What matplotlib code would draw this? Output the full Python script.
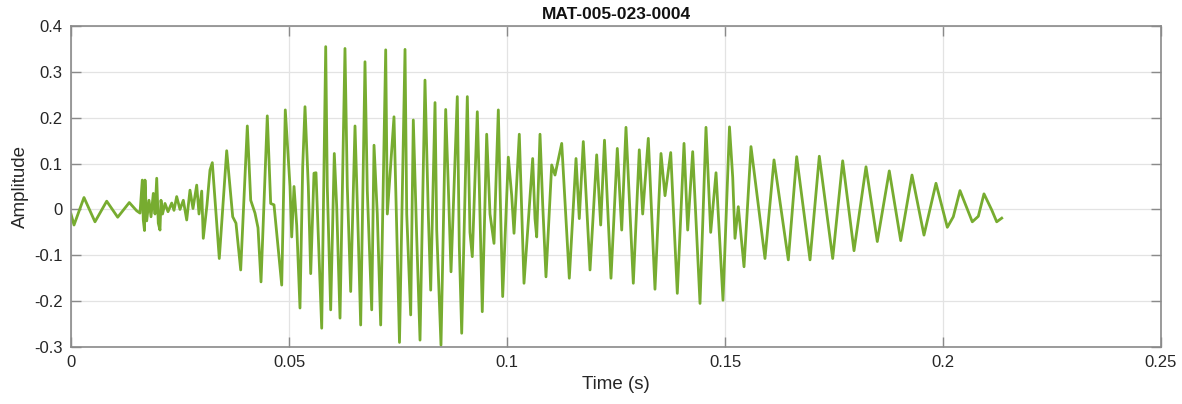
import matplotlib
matplotlib.use('Agg')
import matplotlib.pyplot as plt
from matplotlib.ticker import FuncFormatter
import numpy as np

plt.rcParams['font.family'] = ['Liberation Sans', 'DejaVu Sans']

# waveform: time (ms) and amplitude of peaks / troughs
t_ms = [0.00, 0.69, 2.98, 5.50, 8.19, 10.71, 13.37, 15.07, 15.83,
        16.35, 16.58, 16.86, 16.97, 17.36, 17.89, 18.35, 18.88, 19.27, 19.66,
        20.02, 20.41, 20.64, 20.99, 21.56, 22.25, 23.10, 23.62, 24.24, 25.00,
        25.76, 26.54, 27.29, 27.98, 28.83, 29.36, 29.98, 30.34, 31.19, 31.88,
        32.41, 34.01, 35.71, 37.09, 37.84, 38.92, 40.44, 41.22, 42.20, 42.89,
        43.58, 45.02, 45.80, 46.56, 48.33, 49.15, 50.23, 50.62, 51.15, 51.77,
        52.52, 53.14, 53.67, 54.43, 54.98, 55.73, 56.19, 57.50, 58.42, 58.78,
        59.56, 60.39, 60.94, 61.70, 62.84, 63.37, 64.15, 65.14, 65.89, 66.44,
        67.43, 67.96, 68.97, 69.50, 70.25, 71.03, 72.18, 72.55, 74.08, 75.34,
        76.61, 77.00, 77.91, 78.51, 79.29, 80.05, 81.19, 81.95, 82.50, 83.49,
        83.88, 84.86, 85.94, 86.54, 87.16, 88.60, 89.06, 89.61, 90.90, 91.51,
        92.04, 93.19, 93.65, 94.33, 95.34, 96.10, 97.02, 98.01, 98.39, 99.01,
        100.30, 101.08, 101.61, 102.82, 103.90, 105.89, 106.42, 106.81, 107.57,
        108.19, 108.94, 110.25, 111.01, 112.55, 114.29, 115.83, 116.58, 117.50,
        119.04, 120.57, 121.49, 122.36, 123.85, 125.30, 126.31, 127.29, 128.97,
        130.34, 131.12, 132.41, 133.94, 135.32, 136.24, 137.55, 139.06, 140.60,
        141.44, 142.59, 144.27, 145.64, 146.72, 147.94, 149.54, 151.03, 151.77,
        152.29, 153.05, 154.36, 155.96, 159.17, 161.24, 164.52, 166.44, 169.50,
        171.63, 174.70, 176.99, 179.59, 182.34, 184.93, 187.68, 190.30, 192.89,
        195.64, 198.39, 200.99, 202.36, 203.90, 206.72, 208.10, 209.40, 211.17,
        212.32, 213.47]

amp = [-0.010, -0.034, 0.026, -0.027, 0.018, -0.017, 0.015, -0.003, -0.008,
       0.064, -0.023, -0.046, 0.064, -0.025, 0.020, -0.016, 0.035, -0.010, 0.068,
       -0.030, -0.045, 0.020, -0.010, 0.013, -0.005, 0.014, -0.002, 0.028, 0.000,
       0.020, -0.023, 0.042, 0.002, 0.053, -0.010, 0.040, -0.063, 0.010, 0.086,
       0.102, -0.107, 0.128, -0.016, -0.030, -0.132, 0.182, 0.020, -0.008, -0.040,
       -0.158, 0.204, 0.013, 0.010, -0.165, 0.217, 0.050, -0.060, 0.050, -0.035,
       -0.215, 0.093, 0.224, 0.050, -0.140, 0.079, 0.080, -0.259, 0.355, 0.050,
       -0.219, 0.122, 0.006, -0.237, 0.351, 0.050, -0.179, 0.182, -0.060, -0.252,
       0.322, 0.040, -0.219, 0.140, -0.010, -0.252, 0.348, -0.010, 0.202, -0.290,
       0.349, -0.010, -0.230, 0.195, -0.060, -0.285, 0.282, -0.010, -0.176, 0.233,
       -0.045, -0.296, 0.218, 0.050, -0.136, 0.246, -0.080, -0.270, 0.246, -0.050,
       -0.103, 0.213, 0.050, -0.223, 0.164, -0.010, -0.074, 0.217, 0.050, -0.190,
       0.114, 0.030, -0.052, 0.164, -0.161, 0.111, -0.020, -0.060, 0.164,
       0.010, -0.147, 0.097, 0.075, 0.144, -0.150, 0.111, -0.020, 0.148,
       -0.132, 0.119, -0.034, 0.151, -0.150, 0.133, -0.045, 0.179, -0.161,
       0.130, -0.010, 0.155, -0.174, 0.122, 0.030, 0.124, -0.183, 0.144,
       -0.045, 0.126, -0.205, 0.179, -0.050, 0.080, -0.198, 0.180, 0.070,
       -0.063, 0.006, -0.125, 0.137, -0.107, 0.108, -0.110, 0.115, -0.110,
       0.116, -0.107, 0.106, -0.090, 0.093, -0.070, 0.084, -0.068, 0.075,
       -0.056, 0.057, -0.039, -0.016, 0.041, -0.027, -0.015, 0.034, -0.001,
       -0.027, -0.019]

x_ticks = [0, 0.05, 0.1, 0.15, 0.2, 0.25]
y_ticks = [-0.3, -0.2, -0.1, 0, 0.1, 0.2, 0.3, 0.4]

fig = plt.figure(figsize=(11.82, 4.04), dpi=100)
ax = fig.add_axes([71 / 1182, 57 / 404, 1090 / 1182, 321 / 404])

t = np.array(t_ms) / 1000.0
ax.plot(t, amp, color='#77AC30', linewidth=2.0, solid_joinstyle='round')

ax.set_xlim(0, 0.25)
ax.set_ylim(-0.3, 0.4)
ax.set_xticks(x_ticks)
ax.set_yticks(y_ticks)
fmt = FuncFormatter(lambda v, p: ('%g' % round(v, 3)).replace('-', '-'))
ax.xaxis.set_major_formatter(fmt)
ax.yaxis.set_major_formatter(fmt)

ax.grid(True, color='#e3e3e3', linewidth=0.9)
ax.set_axisbelow(True)
for s in ax.spines.values():
    s.set_color('#8a8a8a')
    s.set_linewidth(1.2)
ax.tick_params(direction='in', length=7, width=1.0, color='#8a8a8a',
               top=True, right=True, labelsize=12, labelcolor='#262626', pad=6)

ax.set_xlabel('Time (s)', fontsize=13.5, color='#262626', labelpad=4)
ax.set_ylabel('Amplitude', fontsize=13.5, color='#262626', labelpad=4)
ax.set_title('MAT-005-023-0004', fontsize=12.5, fontweight='bold', color='#111111', pad=5)

plt.savefig('out.png', dpi=100)
